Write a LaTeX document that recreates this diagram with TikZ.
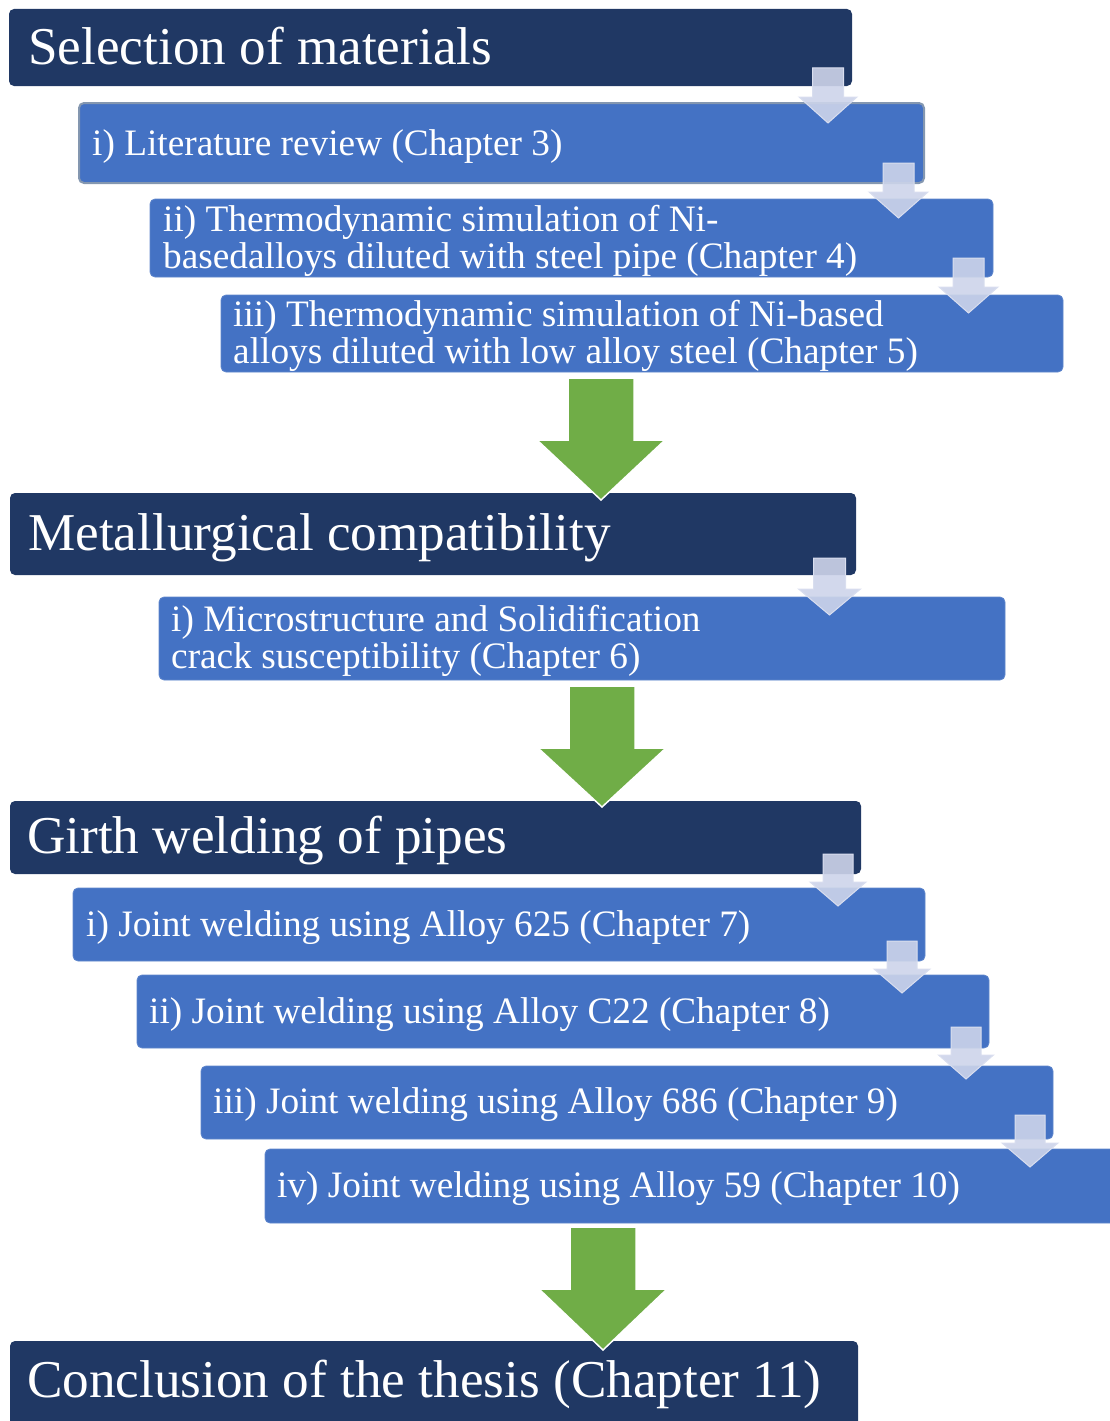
\documentclass[tikz,border=0pt]{standalone}
\usepackage{fontspec}
\setmainfont{Liberation Serif}
\definecolor{navy}{HTML}{203864}
\definecolor{boxblue}{HTML}{4472C4}
\definecolor{boxedge}{HTML}{5F86CC}
\definecolor{grayedge}{HTML}{8497B0}
\definecolor{arrowfill}{HTML}{CDD4EA}
\definecolor{arrowedge}{HTML}{D9DEEF}
\definecolor{bigarrow}{HTML}{70AD47}
\newcommand\mkarrow[7]{\draw[#1] ({#2-#3},#5) -- ({#2+#3},#5) -- ({#2+#3},#6) -- ({#2+#4},#6) -- (#2,#7) -- ({#2-#4},#6) -- ({#2-#3},#6) -- cycle;}
\begin{document}
\begin{tikzpicture}[x=1pt,y=-1pt,
  hdr/.style={fill=navy, rounded corners=5pt, anchor=north west, inner sep=0pt, outer sep=0pt},
  sub/.style={fill=boxblue, draw=boxedge, line width=0.8pt, rounded corners=5pt, anchor=north west, inner sep=0pt, outer sep=0pt},
  htext/.style={text=white, anchor=base west, inner sep=0pt, font=\fontsize{53.2}{53.2}\selectfont},
  stext/.style={text=white, anchor=base west, inner sep=0pt, font=\fontsize{37.3}{37.3}\selectfont},
  smallarr/.style={fill=arrowfill, fill opacity=0.9, draw=arrowedge, line width=1pt},
  greenarr/.style={fill=bigarrow, draw=white, line width=1.5pt}]
\useasboundingbox (0,0) rectangle (1110,1421);
\clip (0,0) rectangle (1110,1421);
% boxes
\node[hdr, minimum width=843, minimum height=77] (h1) at (9,9) {};
\node[sub, draw=grayedge, line width=2pt, minimum width=845, minimum height=80] (b1) at (79,103) {};
\node[sub, minimum width=843, minimum height=78] (b2) at (150,199) {};
\node[sub, minimum width=842, minimum height=77] (b3) at (221,295) {};
\node[hdr, minimum width=846, minimum height=82] (h2) at (10,493) {};
\node[sub, minimum width=846, minimum height=83] (b4) at (159,597) {};
\node[hdr, minimum width=851, minimum height=73] (h3) at (10,801) {};
\node[sub, minimum width=852, minimum height=73] (b5) at (73,888) {};
\node[sub, minimum width=852, minimum height=73] (b6) at (137,975) {};
\node[sub, minimum width=852, minimum height=73] (b7) at (201,1066) {};
\node[sub, minimum width=860, minimum height=74] (b8) at (265,1149) {};
\node[hdr, minimum width=848, minimum height=95] (h4) at (10,1341) {};
% texts
\node[htext] (t1) at (28,64) {Selection of materials};
\node[stext] (t2) at (92,155) {i) Literature review (Chapter 3)};
\node[stext] (t3a) at (163,231) {ii) Thermodynamic simulation of Ni-};
\node[stext] (t3b) at (163,268) {basedalloys diluted with steel pipe (Chapter 4)};
\node[stext] (t4a) at (233,326.5) {iii) Thermodynamic simulation of Ni-based};
\node[stext] (t4b) at (233,363.5) {alloys diluted with low alloy steel (Chapter 5)};
\node[htext] (t5) at (28,550) {Metallurgical compatibility};
\node[stext] (t6a) at (171,631.5) {i) Microstructure and Solidification};
\node[stext] (t6b) at (171,668.5) {crack susceptibility (Chapter 6)};
\node[htext] (t7) at (27,853) {Girth welding of pipes};
\node[stext] (t8) at (86,936) {i) Joint welding using Alloy 625 (Chapter 7)};
\node[stext] (t9) at (149,1023) {ii) Joint welding using Alloy C22 (Chapter 8)};
\node[stext] (t10) at (213,1113) {iii) Joint welding using Alloy 686 (Chapter 9)};
\node[stext] (t11) at (277,1197) {iv) Joint welding using Alloy 59 (Chapter 10)};
\node[htext] (t12) at (27,1397) {Conclusion of the thesis (Chapter 11)};
% small arrows
\mkarrow{smallarr}{828}{15.5}{29}{68}{97}{123}
\mkarrow{smallarr}{898.5}{15.5}{29.5}{163}{192}{218}
\mkarrow{smallarr}{968.5}{15.5}{29.5}{258}{287}{313}
\mkarrow{smallarr}{829.5}{16}{31}{558}{589}{615}
\mkarrow{smallarr}{838}{15}{28}{854}{882}{906}
\mkarrow{smallarr}{902}{15}{28}{941}{969}{993}
\mkarrow{smallarr}{966}{15}{27.5}{1027}{1055}{1079}
\mkarrow{smallarr}{1030}{15}{28}{1115}{1143}{1167}
% green arrows
\mkarrow{greenarr}{601}{33}{64}{378}{440}{500}
\mkarrow{greenarr}{602}{33}{64}{686}{748}{807}
\mkarrow{greenarr}{603}{33}{64}{1227}{1289}{1350}
\end{tikzpicture}
\end{document}
